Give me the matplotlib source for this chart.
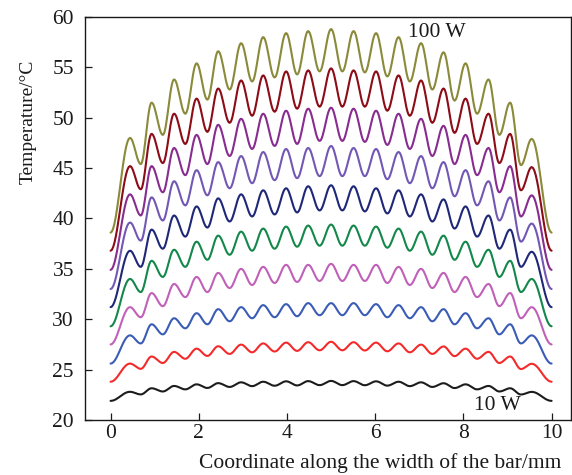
import numpy as np
import matplotlib
matplotlib.use('Agg')
import matplotlib.pyplot as plt

plt.rcParams['font.family'] = ['Liberation Serif', 'DejaVu Serif']

# --- data ---
POWERS = [10, 20, 30, 40, 50, 60, 70, 80, 90, 100]
COLORS = ['#1c1c1c', '#f42a2a', '#3a5cb6', '#c060b8', '#13884a',
          '#1f2878', '#7258b4', '#882c90', '#8c0c18', '#8a8a3a']

# emitter (peak) positions along the bar, mm
EMITTER_X = [0.44, 0.93, 1.44, 1.95, 2.44, 2.96, 3.46, 3.98, 4.48, 5.00,
             5.51, 6.02, 6.53, 7.04, 7.55, 8.05, 8.57, 9.06, 9.55]

# temperature at the bar edges (x=0 and x=10)
EDGE_LEFT = [21.9, 23.8, 25.6, 27.5, 29.3, 31.2, 33.0, 34.9, 36.8, 38.6]
EDGE_RIGHT = [21.9, 23.8, 25.6, 27.5, 29.3, 31.2, 33.0, 34.9, 36.8, 38.6]

# peak (above emitters) and trough (between emitters) temperatures, degC
PEAK_10W = [22.80, 23.15, 23.38, 23.54, 23.66, 23.74, 23.80, 23.84, 23.86, 23.88,
            23.86, 23.84, 23.80, 23.74, 23.65, 23.54, 23.38, 23.15, 22.79]
TROUGH_10W = [22.54, 22.83, 23.04, 23.18, 23.28, 23.36, 23.40, 23.43, 23.46,
              23.46, 23.45, 23.41, 23.36, 23.28, 23.17, 23.04, 22.83, 22.53]
PEAK_20W = [25.60, 26.30, 26.76, 27.08, 27.32, 27.48, 27.60, 27.68, 27.72, 27.76,
            27.72, 27.68, 27.60, 27.48, 27.30, 27.08, 26.76, 26.30, 25.58]
TROUGH_20W = [25.08, 25.66, 26.08, 26.36, 26.56, 26.72, 26.80, 26.86, 26.92,
              26.92, 26.90, 26.82, 26.72, 26.56, 26.34, 26.08, 25.66, 25.06]
PEAK_30W = [28.4, 29.5, 30.1, 30.6, 31.0, 31.2, 31.4, 31.5, 31.6, 31.6,
            31.6, 31.5, 31.4, 31.2, 31.0, 30.6, 30.1, 29.5, 28.4]
TROUGH_30W = [27.6, 28.5, 29.1, 29.5, 29.8, 30.1, 30.2, 30.3, 30.4,
              30.4, 30.4, 30.2, 30.1, 29.8, 29.5, 29.1, 28.5, 27.6]
PEAK_40W = [31.2, 32.6, 33.5, 34.2, 34.6, 35.0, 35.2, 35.4, 35.4, 35.5,
            35.4, 35.4, 35.2, 35.0, 34.6, 34.2, 33.5, 32.6, 31.2]
TROUGH_40W = [30.2, 31.3, 32.2, 32.7, 33.1, 33.4, 33.6, 33.7, 33.8,
              33.8, 33.8, 33.6, 33.4, 33.1, 32.7, 32.2, 31.3, 30.1]
PEAK_50W = [34.0, 35.8, 36.9, 37.7, 38.3, 38.7, 39.0, 39.2, 39.3, 39.4,
            39.3, 39.2, 39.0, 38.7, 38.3, 37.7, 36.9, 35.8, 34.0]
TROUGH_50W = [32.7, 34.2, 35.2, 35.9, 36.4, 36.8, 37.0, 37.2, 37.3,
              37.3, 37.3, 37.1, 36.8, 36.4, 35.9, 35.2, 34.2, 32.7]
PEAK_60W = [36.8, 38.9, 40.3, 41.2, 42.0, 42.4, 42.8, 43.0, 43.2, 43.3,
            43.2, 43.0, 42.8, 42.4, 41.9, 41.2, 40.3, 38.9, 36.7]
TROUGH_60W = [35.2, 37.0, 38.2, 39.1, 39.7, 40.2, 40.4, 40.6, 40.8,
              40.8, 40.7, 40.5, 40.2, 39.7, 39.0, 38.2, 37.0, 35.2]
PEAK_70W = [39.6, 42.1, 43.7, 44.8, 45.6, 46.2, 46.6, 46.9, 47.0, 47.2,
            47.0, 46.9, 46.6, 46.2, 45.6, 44.8, 43.7, 42.1, 39.5]
TROUGH_70W = [37.8, 39.8, 41.3, 42.3, 43.0, 43.5, 43.8, 44.0, 44.2,
              44.2, 44.2, 43.9, 43.5, 43.0, 42.2, 41.3, 39.8, 37.7]
PEAK_80W = [42.4, 45.2, 47.0, 48.3, 49.3, 49.9, 50.4, 50.7, 50.9, 51.0,
            50.9, 50.7, 50.4, 49.9, 49.2, 48.3, 47.0, 45.2, 42.3]
TROUGH_80W = [40.3, 42.6, 44.3, 45.4, 46.2, 46.9, 47.2, 47.4, 47.7,
              47.7, 47.6, 47.3, 46.9, 46.2, 45.4, 44.3, 42.6, 40.2]
PEAK_90W = [45.2, 48.4, 50.4, 51.9, 52.9, 53.7, 54.2, 54.6, 54.7, 54.9,
            54.7, 54.6, 54.2, 53.7, 52.9, 51.9, 50.4, 48.4, 45.1]
TROUGH_90W = [42.9, 45.5, 47.4, 48.6, 49.5, 50.2, 50.6, 50.9, 51.1,
              51.1, 51.1, 50.7, 50.2, 49.5, 48.5, 47.4, 45.5, 42.8]
PEAK_100W = [48.0, 51.5, 53.8, 55.4, 56.6, 57.4, 58.0, 58.4, 58.6, 58.8,
             58.6, 58.4, 58.0, 57.4, 56.5, 55.4, 53.8, 51.5, 47.9]
TROUGH_100W = [45.4, 48.3, 50.4, 51.8, 52.8, 53.6, 54.0, 54.3, 54.6,
               54.6, 54.5, 54.1, 53.6, 52.8, 51.7, 50.4, 48.3, 45.3]

PEAKS = [PEAK_10W, PEAK_20W, PEAK_30W, PEAK_40W, PEAK_50W,
         PEAK_60W, PEAK_70W, PEAK_80W, PEAK_90W, PEAK_100W]
TROUGHS = [TROUGH_10W, TROUGH_20W, TROUGH_30W, TROUGH_40W, TROUGH_50W,
           TROUGH_60W, TROUGH_70W, TROUGH_80W, TROUGH_90W, TROUGH_100W]

TEXT_CLR = '#1a1a1a'
FS = 15.5


def wave_path(peaks, troughs, left, right):
    """Join edge / peak / trough nodes with half-cosine arcs (smooth ripple)."""
    ex = np.array(EMITTER_X)
    mids = (ex[:-1] + ex[1:]) / 2
    nx, ny = [0.0], [left]
    for i, x in enumerate(ex):
        nx.append(x); ny.append(peaks[i])
        if i < len(mids):
            nx.append(mids[i]); ny.append(troughs[i])
    nx.append(10.0); ny.append(right)
    xs, ys = [], []
    t = np.linspace(0, 1, 16)
    s = (1 - np.cos(np.pi * t)) / 2
    for a in range(len(nx) - 1):
        xs.append(nx[a] + (nx[a+1] - nx[a]) * t[:-1])
        ys.append(ny[a] + (ny[a+1] - ny[a]) * s[:-1])
    xs.append([nx[-1]]); ys.append([ny[-1]])
    return np.concatenate(xs), np.concatenate(ys)


fig = plt.figure(figsize=(5.72, 4.75), dpi=100)
ax = fig.add_axes([85/572, 55/475, 486/572, 403/475])

for i, p in enumerate(POWERS):
    x, y = wave_path(PEAKS[i], TROUGHS[i], EDGE_LEFT[i], EDGE_RIGHT[i])
    ax.plot(x, y, color=COLORS[i], lw=1.5, solid_capstyle='round')

ax.set_xlim(-0.58, 10.44); ax.set_ylim(20, 60)
ax.set_xticks(range(0, 11, 2)); ax.set_yticks(range(20, 61, 5))
ax.tick_params(direction='in', length=5, width=0.9, colors=TEXT_CLR, labelsize=FS)
ax.tick_params(axis='y', pad=8)
ax.tick_params(axis='x', pad=3)
for sp in ax.spines.values():
    sp.set_linewidth(1.0); sp.set_color(TEXT_CLR)

ax.set_xlabel('Coordinate along the width of the bar/mm', fontsize=FS, color=TEXT_CLR, loc='right')
ax.xaxis.set_label_coords(0.981, -0.083)
ax.set_ylabel('Temperature/\u00b0C', fontsize=14, color=TEXT_CLR)
ax.yaxis.set_label_coords(-0.10, 0.74)

ax.text(6.74, 58.5, '100 W', fontsize=FS, color=TEXT_CLR, ha='left', va='center')
ax.text(8.24, 21.4, '10 W', fontsize=FS, color=TEXT_CLR, ha='left', va='center')

fig.savefig('out.png', dpi=100)
